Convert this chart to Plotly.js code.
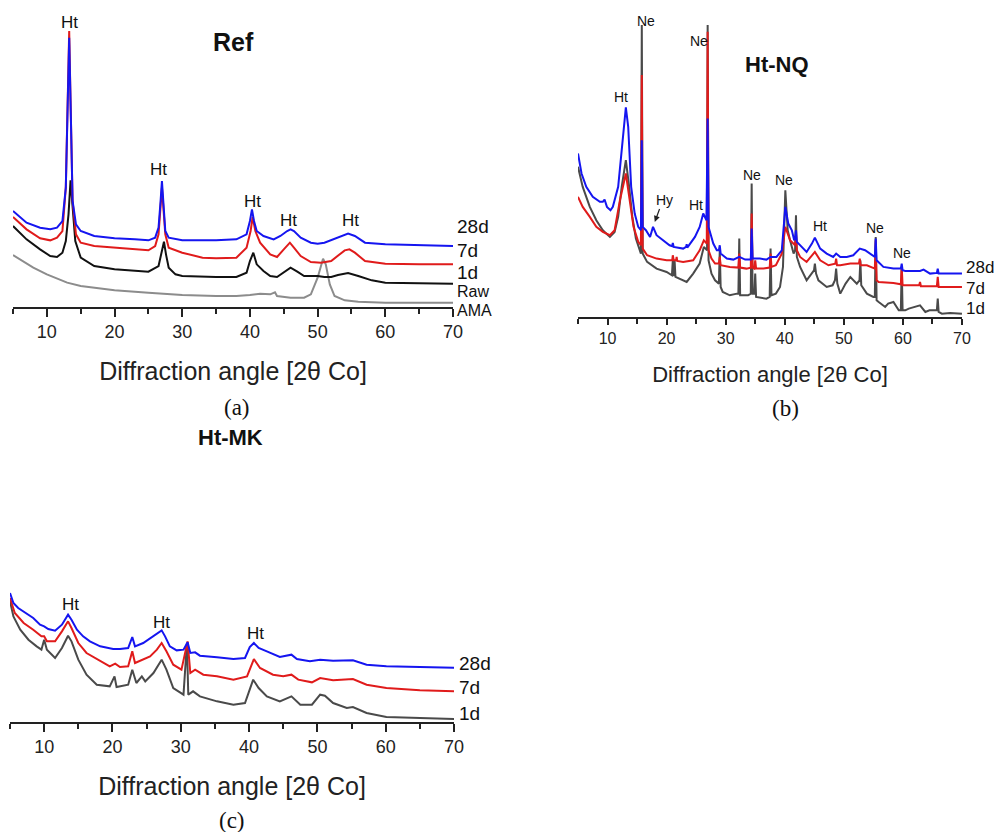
<!DOCTYPE html>
<html>
<head>
<meta charset="utf-8">
<script src="https://cdn.plot.ly/plotly-3.0.1.min.js"></script>
<style>html,body{margin:0;padding:0;background:#fff;}#chart{width:995px;height:832px;}</style>
</head>
<body>
<div id="chart"></div>
<script>
// ---------- Panel (a): Ref ----------
const refX28 = [5,7,9,10.5,11.5,12.3,12.8,13.1,13.3,13.5,13.8,14.3,15,17,20,23,25,26,26.5,26.8,27,27.2,27.5,28,30,35,38,39.5,40,40.3,40.6,41,42,43.5,44.5,45.5,46,46.5,47.5,49,50,51,53,54.5,55.5,57,60,65,70];
const refY28 = [288,253,238,233,238,258,358,618,808,618,318,248,228,213,206,203,200,208,238,318,378,318,228,208,200,200,203,218,258,293,258,228,213,203,213,228,233,228,208,193,190,193,208,220,213,193,188,185,183];
const refX7 = [5,7,9,10.5,11.5,12.3,12.8,13.1,13.3,13.5,13.8,14.3,15,17,20,23,25,26,26.5,27,27.5,28,30,33,35,38,39.5,40.1,40.4,40.8,41.5,43,44,45,45.9,46.5,47.5,49,50.5,52,53,54,54.7,55.5,57,60,65,70];
const refY7 = [270,233,206,200,208,228,358,618,828,618,318,218,193,183,178,173,170,183,218,358,218,178,163,148,146,148,178,228,270,228,193,158,150,173,193,178,153,135,133,138,153,170,173,163,138,130,128,128];
const refX1 = [5,7,9,10.5,11.5,12.3,12.8,13.2,13.5,13.8,14.2,15,17,20,23,25,26.5,27,27.3,27.6,28,29,30,35,38,39.5,40,40.5,41,42,43,44,45,46,47,48,49,50,51,52,53,54.5,56,58,60,65,70];
const refY1 = [243,203,173,153,150,163,198,278,380,298,198,148,123,113,108,106,123,168,196,158,118,98,93,90,90,103,138,163,128,108,93,90,103,118,106,93,93,93,90,90,96,102,93,80,73,71,70];
const refXRaw = [5,8,10,13,15,20,25,30,35,38,40,41.5,43,43.7,44,46,48,49,50,50.5,50.8,51.2,51.8,52.5,54,56,60,65,70];
const refYRaw = [156,118,98,73,63,50,43,36,33,33,36,40,38,44,33,28,28,38,88,128,145,128,68,33,20,16,13,13,13];

// ---------- Panel (b): Ht-NQ ----------
const nqX28 = [5,5.6,6.4,7.5,8.7,9.2,9.5,9.9,10.5,10.9,11.8,12.5,13.1,13.5,14.0,14.6,15.2,15.65,15.8,15.95,16.5,17.2,17.7,18.3,19.4,20.5,20.95,21.05,21.2,22.8,23.3,23.4,23.5,24.8,25.6,26.2,26.75,26.95,27.1,27.9,28.5,28.85,29.0,29.15,30.2,31.3,32.3,33.3,34.25,34.4,34.55,35.8,36.9,37.6,38.6,39.5,40.1,40.6,41.2,41.6,41.75,41.9,42.05,42.3,43.7,44.6,45.1,46.0,47.1,48.2,48.7,49.4,50.5,51.6,52.7,53.6,54.7,55.25,55.4,55.55,56.7,58.4,59.65,59.8,59.95,60.4,62.9,63.5,64.6,65.75,65.9,66.05,70];
const nqY28 = [490,430,390,360,345,345,352,330,320,330,390,530,628,570,390,310,270,260,530,270,260,240,270,245,230,215,212,222,210,205,210,218,208,240,270,310,290,595,270,220,200,200,215,190,175,172,180,172,172,265,175,175,172,180,180,200,330,280,260,230,235,260,225,220,195,220,238,205,190,180,190,180,180,185,205,200,185,180,235,170,150,145,145,160,140,138,138,142,130,132,145,130,130];
const nqX7 = [5,5.8,7.0,8.1,9.2,10.4,11.2,12.1,13.1,13.8,14.4,15.2,15.65,15.8,15.95,16.7,18.3,20.0,20.95,21.05,21.2,21.6,21.7,21.8,22.8,24.5,25.6,26.3,26.8,26.95,27.1,27.6,28.2,28.85,29.0,29.15,30.7,32.15,32.3,32.45,33.5,34.25,34.4,34.55,34.85,35.0,35.15,36.4,37.45,37.6,37.75,38.5,39.5,40.1,40.6,40.9,41.75,41.9,42.05,42.6,43.7,44.6,45.1,46.0,47.4,48.55,48.7,48.85,49.4,51.1,52.55,52.7,52.85,53.9,55.0,55.25,55.4,55.55,55.9,58.4,59.65,59.8,59.95,60.4,62.75,62.9,63.05,64.1,65.75,65.9,66.05,70];
const nqY7 = [360,330,300,270,255,245,260,350,430,350,270,225,215,725,205,185,175,170,170,185,170,170,180,168,165,170,200,230,220,855,200,175,160,160,180,155,150,148,190,148,145,148,310,148,145,170,145,145,148,190,150,155,190,270,245,230,215,250,200,180,165,185,195,170,155,160,175,155,155,160,160,175,155,155,145,145,230,110,105,102,98,150,95,95,95,105,92,92,92,120,90,90];
const nqX1 = [5,5.8,7.0,8.1,9.2,10.4,11.2,11.8,12.4,13.1,13.6,14.2,14.8,15.3,15.65,15.8,15.95,16.7,18.3,20.0,20.9,21.05,21.2,21.35,21.5,23.4,24.5,25.6,26.3,26.85,26.95,27.1,27.6,28.2,28.85,29.0,29.15,29.5,30.7,31.9,32.15,32.3,32.45,33.8,34.25,34.4,34.55,34.85,35.0,35.15,36.9,37.45,37.6,37.75,38.5,39.2,39.7,40.1,40.5,40.9,41.5,41.75,41.9,42.05,42.6,43.7,44.6,44.95,45.1,45.3,45.7,47.1,48.1,48.5,48.7,48.9,49.4,50.3,51.1,52.2,52.65,52.8,52.95,53.9,55.0,55.25,55.4,55.55,55.9,57.0,57.5,58.4,59.3,59.65,59.8,59.95,60.4,61.0,62.9,63.8,64.5,65.75,65.9,66.05,66.6,68,70];
const nqY1 = [450,390,330,290,260,240,255,300,390,470,400,300,235,205,190,875,190,165,145,135,125,170,122,170,120,105,130,160,210,200,875,170,130,110,100,200,90,75,65,70,70,235,65,65,70,400,70,70,130,60,55,60,205,65,70,90,150,380,260,230,190,200,305,180,150,110,130,140,160,130,110,90,95,110,145,100,70,100,120,100,110,170,95,70,60,60,240,50,45,30,40,45,20,20,150,20,20,25,35,15,20,20,55,15,10,12,10];

// ---------- Panel (c): Ht-MK ----------
const mkX28 = [5,5.5,6.2,7.4,8.4,9.4,10.0,10.6,11.6,12.6,13.5,14.0,14.8,15.7,16.7,18.2,20.1,21.1,22.3,22.9,23.3,24.5,25.5,26.5,27.2,27.7,28.4,29.4,30.4,31.0,31.4,32.1,32.8,35.3,37.7,39.4,40.1,40.7,41.4,42.6,44.5,46.2,47.0,48.9,50.4,52.3,55.2,57.2,60.1,65.0,70];
const mkY28 = [387,357,342,327,312,292,287,279,274,292,322,307,277,257,242,227,219,219,222,255,227,237,252,267,275,257,227,215,217,239,207,209,199,194,189,192,225,237,222,212,195,202,189,182,187,184,185,172,167,165,163];
const mkX7 = [5,5.7,7.0,8.4,9.6,10.0,10.4,11.6,12.6,13.5,14.0,15.0,16.2,18.2,19.6,20.4,21.1,22.3,22.9,23.3,24.5,25.5,26.5,27.2,27.9,28.9,30.1,31.0,31.4,32.1,33.3,35.3,37.7,39.7,40.7,41.6,43.5,45.0,46.2,47.2,49.2,50.4,52.3,55.2,57.2,60.1,65.0,70];
const mkY7 = [372,327,297,277,257,257,242,242,272,302,282,237,207,182,167,175,165,167,212,177,187,197,217,237,212,172,157,242,147,157,142,137,127,137,189,162,142,137,142,127,119,132,125,129,112,102,95,92];
const mkX1 = [5,5.5,6.5,7.7,8.9,9.6,10.0,10.4,11.6,12.6,13.5,14.0,15.0,16.2,17.7,19.6,20.3,20.6,22.3,22.9,23.5,24.3,24.8,26.0,27.2,27.9,28.9,29.9,30.4,30.9,31.1,31.8,32.8,35.3,37.7,39.4,40.6,41.4,42.6,44.5,46.2,47.5,49.2,50.4,51.1,52.3,54.3,55.2,57.2,60.1,65.0,70];
const mkY1 = [362,317,277,247,227,217,247,217,192,222,259,242,187,142,112,107,137,105,112,157,117,137,122,147,187,157,102,87,82,237,82,92,77,62,52,57,127,102,77,62,77,52,52,82,79,57,42,45,27,15,12,9];

// ---------- Labels ----------
const seriesLabels = ['28d','7d','1d'];
const refSideLabels = ['28d','7d','1d','Raw','AMA'];
const refPeakX = [13.3,26.5,40.4,45.7,54.8];
const refPeakY = [853,413,318,260,260];
const nqPeakText = ['Ne','Ne','Ht','Hy','Ht','Ne','Ne','Ht','Ne','Ne'];
const nqPeakX = [16.5,25.5,12.3,19.6,25.0,34.4,39.8,45.9,55.3,59.8];
const nqPeakY = [888,828,660,350,335,425,412,272,268,192];
const mkPeakX = [13.8,27.2,40.9];
const mkPeakY = [352,299,267];
const xTitle = 'Diffraction angle [2θ Co]';

const BLUE = '#1515f0', RED = '#e01b1b', BLACK = '#111111', DGRAY = '#4a4a4a', LGRAY = '#8c8c8c';
const FONT = 'Liberation Sans, Arial, sans-serif';
const SERIF = 'Liberation Serif, Times New Roman, serif';

function line(x, y, color, xa, ya, name) {
  return {x: x, y: y, type: 'scatter', mode: 'lines', name: name, xaxis: xa, yaxis: ya,
          line: {color: color, width: 2, shape: 'linear'}, hoverinfo: 'x+y'};
}

const data = [
  line(refXRaw, refYRaw, LGRAY, 'x', 'y', 'Raw AMA'),
  line(refX1, refY1, BLACK, 'x', 'y', '1d'),
  line(refX7, refY7, RED, 'x', 'y', '7d'),
  line(refX28, refY28, BLUE, 'x', 'y', '28d'),
  line(nqX1, nqY1, DGRAY, 'x2', 'y2', '1d'),
  line(nqX7, nqY7, RED, 'x2', 'y2', '7d'),
  line(nqX28, nqY28, BLUE, 'x2', 'y2', '28d'),
  line(mkX1, mkY1, DGRAY, 'x3', 'y3', '1d'),
  line(mkX7, mkY7, RED, 'x3', 'y3', '7d'),
  line(mkX28, mkY28, BLUE, 'x3', 'y3', '28d')
];

function xaxis(domain, anchor, fs, tfs, standoff, majLen, minLen) {
  return {domain: domain, anchor: anchor, range: [5, 70], tick0: 0, dtick: 10,
    ticks: 'outside', ticklen: majLen, tickwidth: 1.5, tickcolor: '#222',
    minor: {dtick: 5, tick0: 0, ticks: 'outside', ticklen: minLen, tickwidth: 1.5, tickcolor: '#222', showgrid: false},
    showline: true, linecolor: '#222', linewidth: 1.5, showgrid: false, zeroline: false,
    tickfont: {family: FONT, size: fs, color: '#222'},
    title: {text: xTitle, font: {family: FONT, size: tfs, color: '#222'}, standoff: standoff}};
}
function yaxis(domain, anchor, top) {
  return {domain: domain, anchor: anchor, range: [0, top], visible: false, showgrid: false, zeroline: false, fixedrange: true};
}

const annotations = [];
function ann(text, x, y, xref, yref, size, opts) {
  annotations.push(Object.assign({text: text, x: x, y: y, xref: xref, yref: yref, showarrow: false,
    font: {family: FONT, size: size, color: '#111'}, xanchor: 'center', yanchor: 'middle'}, opts || {}));
}
// titles
ann('<b>Ref</b>', 0.2342, 0.9495, 'paper', 'paper', 25);
ann('<b>Ht-NQ</b>', 0.781, 0.9219, 'paper', 'paper', 22);
ann('<b>Ht-MK</b>', 0.2312, 0.4736, 'paper', 'paper', 22);
// captions
ann('(a)', 0.2382, 0.5108, 'paper', 'paper', 23, {font: {family: SERIF, size: 23, color: '#111'}});
ann('(b)', 0.789, 0.5096, 'paper', 'paper', 23, {font: {family: SERIF, size: 23, color: '#111'}});
ann('(c)', 0.2332, 0.014, 'paper', 'paper', 23, {font: {family: SERIF, size: 23, color: '#111'}});
// panel a peak labels
refPeakX.forEach((x, i) => ann('Ht', x, refPeakY[i], 'x', 'y', 17));
// panel a side labels
const refLabY = [0.7272, 0.6995, 0.6719, 0.6502, 0.6274];
const refLabSize = [19, 19, 19, 16, 16];
refSideLabels.forEach((t, i) => ann(t, 0.4573, refLabY[i], 'paper', 'paper', refLabSize[i], {xanchor: 'left'}));
// panel b peak labels
nqPeakText.forEach((t, i) => ann(t, nqPeakX[i], nqPeakY[i], 'x2', 'y2', 14));
annotations.push({x: 18.0, y: 285, xref: 'x2', yref: 'y2', ax: 18.9, ay: 328, axref: 'x2', ayref: 'y2',
  text: '', showarrow: true, arrowhead: 2, arrowsize: 1, arrowwidth: 1.2, arrowcolor: '#222'});
const nqLabY = [0.6779, 0.6538, 0.6298];
seriesLabels.forEach((t, i) => ann(t, 0.9688, nqLabY[i], 'paper', 'paper', 17, {xanchor: 'left'}));
// panel c
mkPeakX.forEach((x, i) => ann('Ht', x, mkPeakY[i], 'x3', 'y3', 17));
const mkLabY = [0.2031, 0.1731, 0.143];
seriesLabels.forEach((t, i) => ann(t, 0.4593, mkLabY[i], 'paper', 'paper', 19, {xanchor: 'left'}));

const layout = {
  width: 995, height: 832, margin: {l: 0, r: 0, t: 0, b: 0},
  paper_bgcolor: '#fff', plot_bgcolor: '#fff', showlegend: false,
  font: {family: FONT, color: '#222'},
  xaxis: xaxis([0.01307, 0.4553], 'y', 18, 25, 21, 8, 5),
  yaxis: yaxis([0.6310, 1.0], 'x', 921),
  xaxis2: xaxis([0.5809, 0.9668], 'y2', 16, 22, 21, 6, 5),
  yaxis2: yaxis([0.6190, 1.0], 'x2', 950),
  xaxis3: xaxis([0.01005, 0.4563], 'y3', 18, 25, 21, 8, 5),
  yaxis3: yaxis([0.1322, 0.3269], 'x3', 486),
  annotations: annotations
};

Plotly.newPlot('chart', data, layout, {displayModeBar: false, responsive: false});
</script>
</body>
</html>
